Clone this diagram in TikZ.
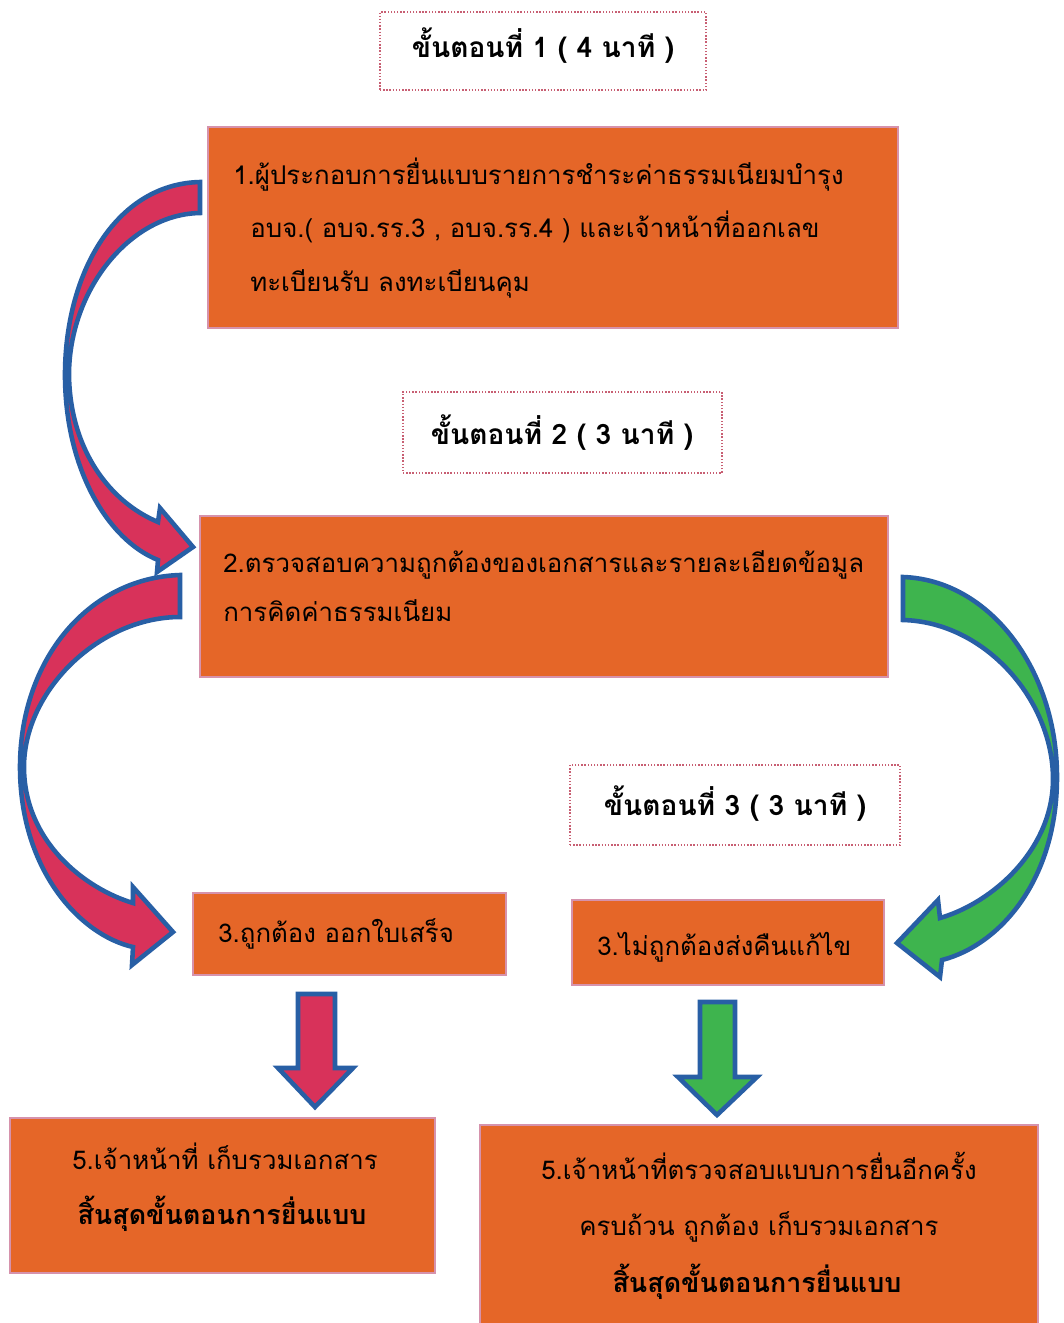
\documentclass[tikz,border=0pt]{standalone}
\usepackage{fontspec}
\newfontfamily\thai[Script=Thai]{Loma}
\usetikzlibrary{fit}
\definecolor{boxorange}{RGB}{229,102,40}
\definecolor{boxedge}{RGB}{214,146,172}
\definecolor{headedge}{RGB}{200,95,115}
\definecolor{arrowred}{RGB}{216,50,90}
\definecolor{arrowblue}{RGB}{40,95,165}
\definecolor{arrowgreen}{RGB}{62,180,78}
\begin{document}
\begin{tikzpicture}[x=0.02cm,y=-0.02cm,
  orangebox/.style={draw=boxedge, line width=1.6pt, fill=boxorange, inner sep=0pt},
  headbox/.style={draw=headedge, densely dotted, line width=0.8pt, inner sep=0pt},
  headtxt/.style={font=\thai\bfseries\fontsize{16}{19}\selectfont, inner sep=0pt},
  txt/.style={font=\thai\fontsize{14.7}{18}\selectfont, inner sep=0pt, anchor=base west},
  ctxt/.style={font=\thai\fontsize{14.7}{18}\selectfont, inner sep=0pt, anchor=base},
  btxt/.style={font=\thai\bfseries\fontsize{15.3}{18}\selectfont, inner sep=0pt, anchor=base},
  redarrow/.style={fill=arrowred, draw=arrowblue, line width=2.6pt},
  greenarrow/.style={fill=arrowgreen, draw=arrowblue, line width=2.6pt}]
\useasboundingbox (0,0) rectangle (1063,1323);
\fill[white] (0,0) rectangle (1063,1323);

% header boxes
\node[headbox, fit={(380,12) (706,90)}] (h1) {};
\node[headtxt] (h1t) at (543,46) {ขั้นตอนที่ 1 ( 4 นาที )};
\node[headbox, fit={(403,392) (722,473)}] (h2) {};
\node[headtxt] (h2t) at (562,433) {ขั้นตอนที่ 2 ( 3 นาที )};
\node[headbox, fit={(570,765) (900,845)}] (h3) {};
\node[headtxt] (h3t) at (735,804) {ขั้นตอนที่ 3 ( 3 นาที )};

% orange boxes
\node[orangebox, fit={(208,127) (898,328)}] (b1) {};
\node[txt] (b1a) at (233,184) {1.ผู้ประกอบการยื่นแบบรายการชำระค่าธรรมเนียมบำรุง};
\node[txt] (b1b) at (250,237) {อบจ.( อบจ.รร.3 , อบจ.รร.4 ) และเจ้าหน้าที่ออกเลข};
\node[txt] (b1c) at (250,291) {ทะเบียนรับ ลงทะเบียนคุม};

\node[orangebox, fit={(200,516) (888,677)}] (b2) {};
\node[txt] (b2a) at (223,572) {2.ตรวจสอบความถูกต้องของเอกสารและรายละเอียดข้อมูล};
\node[txt] (b2b) at (223,621) {การคิดค่าธรรมเนียม};

\node[orangebox, fit={(193,893) (506,975)}] (b3a) {};
\node[txt] (b3at) at (218,942) {3.ถูกต้อง ออกใบเสร็จ};
\node[orangebox, fit={(572,900) (884,985)}] (b3b) {};
\node[txt] (b3bt) at (597,955) {3.ไม่ถูกต้องส่งคืนแก้ไข};

\node[orangebox, fit={(10,1118) (435,1273)}] (b5a) {};
\node[ctxt] (b5a1) at (225,1169) {5.เจ้าหน้าที่ เก็บรวมเอกสาร};
\node[btxt] (b5a2) at (222,1224) {สิ้นสุดขั้นตอนการยื่นแบบ};

\node[orangebox, fit={(480,1125) (1038,1335)}] (b5b) {};
\node[ctxt] (b5b1) at (759,1179) {5.เจ้าหน้าที่ตรวจสอบแบบการยื่นอีกครั้ง};
\node[ctxt] (b5b2) at (759,1235) {ครบถ้วน ถูกต้อง เก็บรวมเอกสาร};
\node[btxt] (b5b3) at (757,1292) {สิ้นสุดขั้นตอนการยื่นแบบ};

% curved arrows
\filldraw[redarrow] (200,182) .. controls (115,184) and (64,275) .. (65,378)
  .. controls (66,470) and (108,540) .. (158,560) -- (157,572) -- (193,547)
  -- (160,508) -- (158,522) .. controls (110,502) and (70,450) .. (69,375)
  .. controls (69,290) and (130,214) .. (200,213) -- cycle;

\filldraw[redarrow] (180,575) .. controls (88,578) and (20,660) .. (20,767)
  .. controls (20,870) and (80,935) .. (133,947) -- (132,965) -- (173,932)
  -- (133,887) -- (133,903) .. controls (83,888) and (24,840) .. (24,767)
  .. controls (24,690) and (100,617) .. (180,617) -- cycle;

\filldraw[greenarrow] (903,577) .. controls (990,580) and (1057,670) .. (1057,777)
  .. controls (1057,880) and (1000,945) .. (942,960) -- (940,977) -- (897,943)
  -- (938,900) -- (940,918) .. controls (992,903) and (1053,850) .. (1053,779)
  .. controls (1053,700) and (985,622) .. (903,620) -- cycle;

% straight arrows
\filldraw[redarrow] (298,994) -- (335,994) -- (335,1068) -- (353,1068) -- (315,1107)
  -- (278,1068) -- (298,1068) -- cycle;
\filldraw[greenarrow] (700,1002) -- (735,1002) -- (735,1077) -- (757,1077) -- (717,1115)
  -- (678,1077) -- (700,1077) -- cycle;
\end{tikzpicture}
\end{document}
